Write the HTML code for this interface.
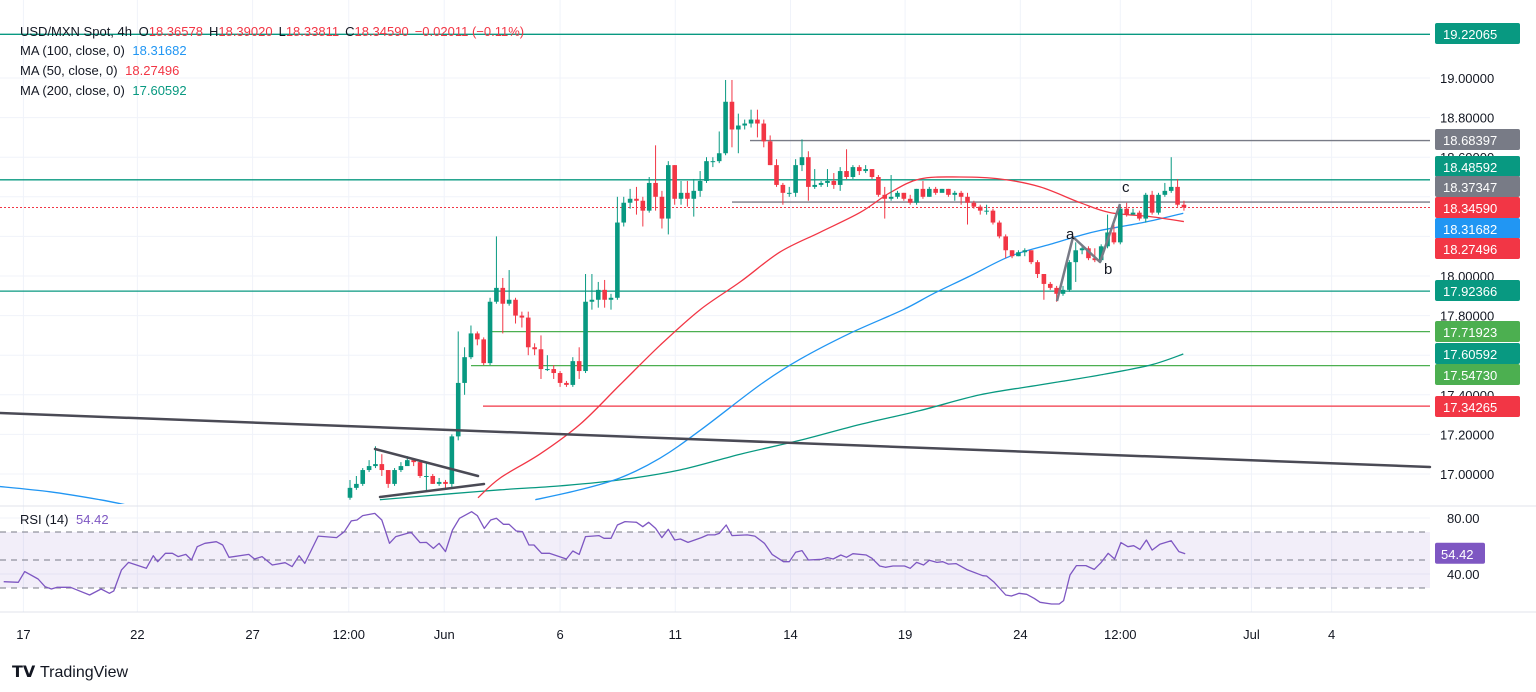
<!DOCTYPE html>
<html><head><meta charset="utf-8"><style>
html,body{margin:0;padding:0;background:#fff;}
svg{display:block;font-family:"Liberation Sans",sans-serif;}
</style></head><body>
<svg id="chart" width="1536" height="692" viewBox="0 0 1536 692" xmlns="http://www.w3.org/2000/svg">
<defs>
<clipPath id="mainClip"><rect x="0" y="0" width="1430" height="504"/></clipPath>
<clipPath id="rsiClip"><rect x="0" y="507" width="1430" height="104"/></clipPath>
</defs>
<rect x="0" y="0" width="1536" height="692" fill="#ffffff"/>
<g id="grid"></g>
<g id="levels"></g>
<g id="mas" clip-path="url(#mainClip)"></g>
<g id="candles" clip-path="url(#mainClip)"></g>
<g id="draw"></g>
<g id="rsi"></g>
<g id="axis"></g>
<g id="xaxis"></g>
<g font-size="13">
<text x="20" y="36" fill="#131722">USD/MXN Spot, 4h <tspan dx="3">O</tspan><tspan fill="#f23645">18.36578</tspan><tspan dx="6">H</tspan><tspan fill="#f23645">18.39020</tspan><tspan dx="6">L</tspan><tspan fill="#f23645">18.33811</tspan><tspan dx="6">C</tspan><tspan fill="#f23645">18.34590</tspan><tspan dx="6" fill="#f23645">−0.02011 (−0.11%)</tspan></text>
<text x="20" y="55" fill="#131722">MA (100, close, 0) <tspan dx="4" fill="#2196f3">18.31682</tspan></text>
<text x="20" y="75" fill="#131722">MA (50, close, 0) <tspan dx="4" fill="#f23645">18.27496</tspan></text>
<text x="20" y="95" fill="#131722">MA (200, close, 0) <tspan dx="4" fill="#089981">17.60592</tspan></text>
<text x="20" y="524" fill="#131722">RSI (14) <tspan dx="4" fill="#7e57c2">54.42</tspan></text>
</g>
<g>
<text x="12" y="677" font-size="16" font-weight="bold" fill="#131722">𝗧𝗩</text>
<text x="40" y="677" font-size="16" fill="#131722">TradingView</text>
</g>
</svg>
<script>
const firstOpen = 16.88;
const closes = [16.93,16.95,17.02,17.04,17.05,17.02,16.95,17.02,17.04,17.07,17.06,16.99,16.99,16.95,16.96,16.95,17.19,17.46,17.59,17.71,17.68,17.56,17.87,17.94,17.86,17.88,17.80,17.79,17.64,17.63,17.53,17.53,17.51,17.46,17.45,17.57,17.52,17.87,17.88,17.93,17.88,17.89,18.27,18.37,18.39,18.38,18.33,18.47,18.40,18.29,18.56,18.39,18.42,18.39,18.43,18.48,18.58,18.58,18.62,18.88,18.74,18.76,18.77,18.79,18.77,18.68,18.56,18.46,18.42,18.42,18.56,18.60,18.45,18.46,18.47,18.48,18.46,18.53,18.50,18.55,18.53,18.54,18.50,18.41,18.39,18.40,18.42,18.39,18.37,18.44,18.40,18.44,18.42,18.44,18.41,18.42,18.40,18.37,18.35,18.33,18.33,18.27,18.20,18.13,18.10,18.12,18.13,18.07,18.01,17.96,17.94,17.91,17.93,18.07,18.13,18.14,18.09,18.08,18.15,18.22,18.17,18.34,18.31,18.32,18.29,18.41,18.32,18.41,18.43,18.45,18.36,18.346];
const highs = [16.97,16.99,17.03,17.07,17.14,17.10,17.02,17.03,17.06,17.09,17.08,17.07,17.06,17.00,16.98,16.97,17.20,17.72,17.64,17.75,17.72,17.69,17.89,18.20,17.99,18.03,17.89,17.82,17.82,17.66,17.70,17.60,17.55,17.52,17.47,17.59,17.64,18.01,18.01,17.97,17.98,17.91,18.40,18.40,18.44,18.45,18.40,18.50,18.66,18.43,18.58,18.56,18.48,18.48,18.49,18.53,18.60,18.60,18.73,18.99,18.99,18.82,18.79,18.84,18.84,18.79,18.71,18.59,18.47,18.45,18.59,18.69,18.63,18.54,18.48,18.54,18.52,18.55,18.64,18.56,18.56,18.56,18.54,18.51,18.45,18.51,18.43,18.42,18.41,18.44,18.48,18.45,18.45,18.44,18.44,18.43,18.43,18.42,18.38,18.36,18.36,18.34,18.28,18.21,18.13,18.13,18.14,18.12,18.08,18.01,17.97,17.95,17.95,18.08,18.17,18.16,18.15,18.14,18.16,18.31,18.26,18.36,18.37,18.34,18.33,18.42,18.43,18.42,18.47,18.60,18.49,18.38];
const lows = [16.87,16.92,16.94,17.01,17.03,16.99,16.93,16.94,17.01,17.06,17.04,16.98,16.91,16.95,16.94,16.92,16.93,17.17,17.40,17.58,17.65,17.55,17.55,17.86,17.71,17.85,17.76,17.74,17.60,17.60,17.48,17.52,17.48,17.44,17.44,17.44,17.48,17.51,17.83,17.84,17.84,17.83,17.88,18.25,18.34,18.31,18.25,18.32,18.33,18.24,18.21,18.36,18.36,18.35,18.30,18.40,18.47,18.55,18.57,18.61,18.65,18.62,18.74,18.75,18.70,18.65,18.56,18.45,18.36,18.40,18.40,18.53,18.38,18.44,18.45,18.45,18.44,18.43,18.49,18.49,18.51,18.52,18.49,18.40,18.29,18.38,18.39,18.38,18.36,18.36,18.39,18.40,18.41,18.43,18.40,18.38,18.36,18.26,18.34,18.31,18.31,18.26,18.19,18.09,18.09,18.10,18.10,18.06,17.99,17.88,17.93,17.87,17.90,17.92,17.97,18.11,18.08,18.07,18.07,18.14,18.16,18.16,18.30,18.31,18.28,18.27,18.31,18.31,18.40,18.42,18.35,18.33];

const ma50Idx = [20.1,23.6,29.8,36.1,42.4,48.7,55,61.3,67.5,73.8,80.1,84.8,89.5,95.8,102.1,108.4,114.7,119.4,125.7,131];
const ma50Val = [16.88,16.98,17.10,17.25,17.45,17.65,17.83,17.97,18.12,18.22,18.32,18.42,18.49,18.50,18.49,18.45,18.37,18.32,18.30,18.275];
const ma100Idx = [-56,-47.1,-39.3,-34.6,29.1,36.1,42.4,48.7,55,64.4,70.7,78.5,86.9,91.6,97.4,103.7,110,114.2,117.8,124.6,130.9];
const ma100Val = [16.94,16.91,16.87,16.84,16.87,16.92,16.98,17.08,17.22,17.45,17.58,17.71,17.83,17.91,18.00,18.10,18.16,18.20,18.23,18.27,18.317];
const ma200Idx = [4.7,15.7,23.6,33,42.4,51.8,61.3,70.7,80.1,89.5,99,108.4,117.8,125.7,130.9];
const ma200Val = [16.87,16.90,16.92,16.94,16.97,17.02,17.10,17.17,17.25,17.32,17.40,17.45,17.50,17.55,17.606];

const rsiIdx = [-54.4,-52.1,-51.1,-49,-47.9,-46.9,-46,-43.9,-40.9,-39.1,-37.8,-37.1,-35.9,-34.8,-32,-30.9,-30.2,-29,-27.9,-27,-25.8,-24.9,-24,-22.8,-21,-20,-19,-15.9,-15,-13.8,-12.2,-10.2,-9.1,-8,-7.1,-5,-2.1,-0.9,0.2,1.1,2,3.9,5,6.2,7.2,9.6,11,12,13.1,14,15,16.1,17.2,19.1,20,21.1,22.1,23,24.1,25,26.1,27.1,28.1,28.9,30.1,31.3,34,35,36,37,39.1,39.9,41,42,43.2,45,46,46.9,48,49,50,51,51.9,53.1,55.2,56.2,57.3,58,59.1,60,62.4,63.6,65.1,66.3,68.1,69,70,71,72,74.1,75,75.9,77.1,78,79,81.1,82,83.2,84.1,85.3,87.1,88,89,90.1,91,92.2,93.1,94,95.2,97,99.4,100,101.2,103,103.9,105.1,106.3,107.5,108.4,110.2,111.4,112.1,113.1,114.1,115.6,116.9,118,119.1,120.1,121.1,122.2,123.1,124.1,125.1,126,127.2,129,130.2,131.2];
const rsiVal = [34.5,34.1,41.7,36.4,30.9,29.3,30.5,30.5,25.0,29.3,26.2,27.9,42.9,48.3,44.1,53.1,48.8,54.8,54.8,52.4,54.0,50.0,59.5,61.9,63.1,60.7,51.9,54.0,50.7,52.4,46.4,48.1,45.3,53.1,47.6,67.1,66.0,70.2,77.9,78.6,81.7,83.3,78.6,61.9,66.7,69.8,62.4,62.6,58.3,61.9,56.0,71.4,79.8,84.5,81.7,72.6,78.6,79.8,75.5,75.5,70.7,70.2,60.7,60.7,54.8,54.8,50.7,56.4,54.0,66.7,67.4,65.5,65.5,75.0,77.4,76.9,73.8,76.9,72.6,66.0,71.9,64.3,65.0,62.6,66.0,67.9,67.9,69.0,75.0,67.4,67.9,67.1,61.9,54.0,48.8,48.8,55.5,56.7,50.0,50.5,51.7,50.7,53.6,51.9,54.5,53.6,51.2,45.7,44.8,45.7,45.7,44.1,48.3,46.4,49.8,48.3,48.8,47.1,47.4,42.9,38.8,38.6,34.1,25.0,24.3,26.2,25.5,22.6,19.8,18.6,18.6,21.0,39.3,46.0,46.0,43.3,48.3,54.8,50.7,62.4,59.5,60.2,57.6,64.3,57.1,61.2,63.8,56.0,54.4];

const priceTicks = [19.0,18.8,18.6,18.4,18.2,18.0,17.8,17.6,17.4,17.2,17.0];
const priceTickShown = ["19.00000","18.80000","18.60000","","","18.00000","17.80000","","17.40000","17.20000","17.00000"];
const dateLabels = ["17","22","27","12:00","Jun","6","11","14","19","24","12:00","Jul","4"];
const dateIdx = [-51.3,-33.4,-15.3,-0.2,14.8,33,51.1,69.2,87.2,105.3,121,141.6,154.2];
const rsiTicks = [80,40];

const X0 = 350, STEP = 6.366;
const xs = i => X0 + i*STEP;
const ys = p => 78 + (19 - p)*198;
const yr = v => 518 + (80 - v)*1.4;
const NS = "http://www.w3.org/2000/svg";
function mk(tag, attrs, parent){ const e=document.createElementNS(NS,tag); for(const k in attrs) e.setAttribute(k,attrs[k]); parent.appendChild(e); return e; }
const G = id => document.getElementById(id);

// grid
const grid = G('grid');
priceTicks.forEach(p=>{ const l=mk('line',{x1:0,x2:1430,y1:ys(p),y2:ys(p),stroke:'#f0f3fa','stroke-width':1},grid);

 });
dateIdx.forEach(i=>{ const l=mk('line',{x1:xs(i),x2:xs(i),y1:0,y2:612,stroke:'#f0f3fa','stroke-width':1},grid);

 });
rsiTicks.forEach(v=>{ const l=mk('line',{x1:0,x2:1430,y1:yr(v),y2:yr(v),stroke:'#f0f3fa'},grid);

 });
const sep = mk('line',{x1:0,x2:1536,y1:506,y2:506,stroke:'#e0e3eb','stroke-width':1},grid);



// horizontal levels
const lv = G('levels');
function hline(p,x1,color,dash,w,name){ const l=mk('line',{x1:x1,x2:1430,y1:ys(p),y2:ys(p),stroke:color,'stroke-width':w},lv); if(dash) l.setAttribute('stroke-dasharray',dash);

 }
hline(19.22065,0,'#089981',null,1.3,'level-19-22065');
hline(18.48592,0,'#089981',null,1.3,'level-18-48592');
hline(17.92366,0,'#089981',null,1.3,'level-17-92366');
hline(18.68397,750,'#787b86',null,1.3,'level-18-68397');
hline(18.37347,732,'#787b86',null,1.3,'level-18-37347');
hline(17.71923,492,'#4caf50',null,1.3,'level-17-71923');
hline(17.5473,471,'#4caf50',null,1.3,'level-17-54730');
hline(17.34265,483,'#f23645',null,1.3,'level-17-34265');
hline(18.3459,0,'#f23645','2,2',1,'last-price-line');

// moving averages (smooth catmull-rom through samples)
const mas = G('mas');
function smoothPath(P){ let d='M'+P[0][0].toFixed(1)+','+P[0][1].toFixed(1);
  for(let k=0;k<P.length-1;k++){ const p0=P[k-1]||P[k], p1=P[k], p2=P[k+1], p3=P[k+2]||P[k+1];
    const c1=[p1[0]+(p2[0]-p0[0])/6, p1[1]+(p2[1]-p0[1])/6], c2=[p2[0]-(p3[0]-p1[0])/6, p2[1]-(p3[1]-p1[1])/6];
    d+=' C'+c1[0].toFixed(1)+','+c1[1].toFixed(1)+' '+c2[0].toFixed(1)+','+c2[1].toFixed(1)+' '+p2[0].toFixed(1)+','+p2[1].toFixed(1); }
  return d; }
function maLine(idx,val,color,name){ const P=idx.map((i,k)=>[xs(i),ys(val[k])]);
const pl=mk('path',{d:smoothPath(P),fill:'none',stroke:color,'stroke-width':1.3,'stroke-linejoin':'round'},mas);

 }
maLine(ma200Idx,ma200Val,'#089981','ma200-line');
maLine(ma100Idx.slice(0,4),ma100Val.slice(0,4),'#2196f3','ma100-line-early');
maLine(ma100Idx.slice(4),ma100Val.slice(4),'#2196f3','ma100-line');
maLine(ma50Idx,ma50Val,'#f23645','ma50-line');

// candles
const cg = G('candles');
closes.forEach((c,i)=>{
  const o = i===0 ? firstOpen : closes[i-1];
  const up = c >= o; const col = up ? '#089981' : '#f23645';
  const x = xs(i);
  const w = mk('line',{x1:x,x2:x,y1:ys(highs[i]),y2:ys(lows[i]),stroke:col,'stroke-width':1},cg);
  
  
  const top = ys(Math.max(o,c)), h = Math.max(1, Math.abs(ys(o)-ys(c)));
  const b = mk('rect',{x:x-2.3,y:top,width:4.6,height:h,fill:col},cg);
  
  
});

// drawings: trendline, triangle, abc
const dr = G('draw');
function seg(x1,y1,x2,y2,w,name){ const l=mk('line',{x1,y1,x2,y2,stroke:'#4a4a55','stroke-width':w,'stroke-linecap':'round'},dr);

 }
seg(0,413,1430,467,2.5,'long-trendline');
seg(375,449,478,476,2.5,'triangle-upper');
seg(380,497,484,484,2.5,'triangle-lower');
const abc = mk('polyline',{points:'1057,301 1073,237 1100,262 1120,204',fill:'none',stroke:'#787b86','stroke-width':2.5,'stroke-linejoin':'round'},dr);


[['a',1066,239],['b',1104,274],['c',1122,192]].forEach(t=>{ const e=mk('text',{x:t[1],y:t[2],'font-size':15,fill:'#131722'},dr); e.textContent=t[0];

 });

// RSI
const rg = G('rsi');
const band = mk('rect',{x:0,y:yr(70),width:1430,height:yr(30)-yr(70),fill:'#7e57c2','fill-opacity':0.1},rg);


[70,50,30].forEach(v=>{ const l=mk('line',{x1:0,x2:1430,y1:yr(v),y2:yr(v),stroke:'#787b86','stroke-dasharray':'6,5','stroke-width':1},rg);

 });
const rpts = rsiIdx.map((i,k)=>xs(i).toFixed(1)+','+yr(rsiVal[k]).toFixed(1)).join(' ');
const rl = mk('polyline',{points:rpts,fill:'none',stroke:'#7e57c2','stroke-width':1.3,'stroke-linejoin':'round','clip-path':'url(#rsiClip)'},rg);



// price axis
const ax = G('axis');
priceTicks.forEach((p,k)=>{ if(!priceTickShown[k]) return; const t=mk('text',{x:1440,y:ys(p)+5,'font-size':13,fill:'#131722'},ax); t.textContent=priceTickShown[k];

 });
rsiTicks.forEach(v=>{ const t=mk('text',{x:1447,y:yr(v)+5,'font-size':13,fill:'#131722'},ax); t.textContent=v.toFixed(2);

 });
const labels = [['19.22065',34,'#089981'],['18.68397',140,'#787b86'],['18.48592',167,'#089981'],['18.37347',187,'#787b86'],['18.34590',208,'#f23645'],['18.31682',229,'#2196f3'],['18.27496',249,'#f23645'],['17.92366',291,'#089981'],['17.71923',332,'#4caf50'],['17.60592',354,'#089981'],['17.54730',375,'#4caf50'],['17.34265',407,'#f23645']];
labels.forEach(l=>{ const r=mk('rect',{x:1435,y:l[1]-11,width:85,height:21,rx:2,fill:l[2]},ax);


const t=mk('text',{x:1443,y:l[1]+5,'font-size':13,fill:'#ffffff'},ax); t.textContent=l[0];

 });
const rb=mk('rect',{x:1435,y:yr(54.42)-11,width:50,height:21,rx:2,fill:'#7e57c2'},ax);


const rt=mk('text',{x:1441,y:yr(54.42)+5,'font-size':13,fill:'#fff'},ax); rt.textContent='54.42';



// time axis
const xa = G('xaxis');
const xl = mk('line',{x1:0,x2:1536,y1:612,y2:612,stroke:'#e0e3eb'},xa);


dateLabels.forEach((d,k)=>{ const t=mk('text',{x:xs(dateIdx[k]),y:639,'font-size':13,fill:'#131722','text-anchor':'middle'},xa); t.textContent=d;

 });
</script>
</body></html>
